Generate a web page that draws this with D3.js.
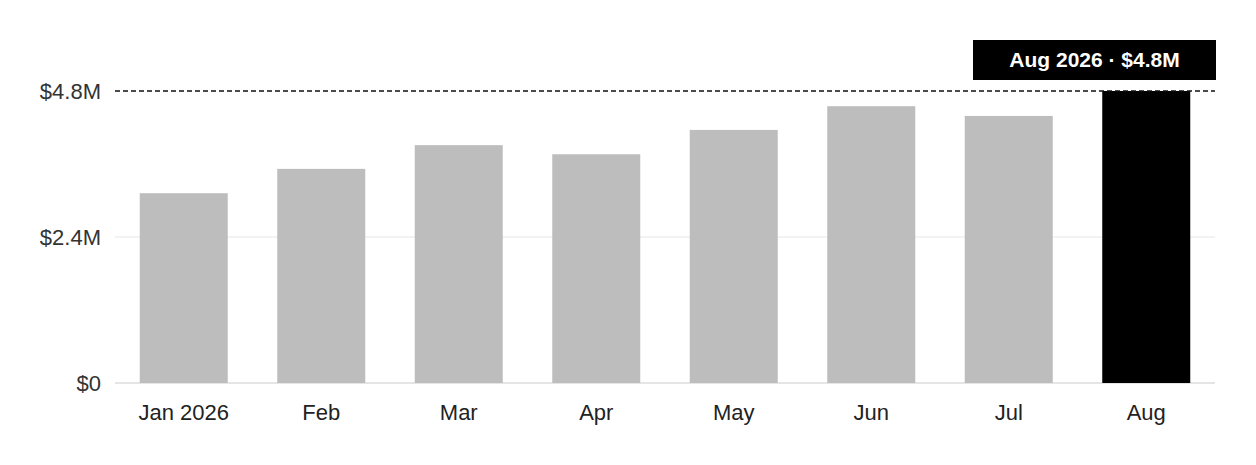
<!DOCTYPE html>
<html>
<head>
<meta charset="utf-8">
<script src="https://cdn.jsdelivr.net/npm/d3@7"></script>
<style>
  body { margin: 0; background: #fff; }
  svg { display: block; font-family: "Liberation Sans", Arial, sans-serif; }
</style>
</head>
<body>
<svg width="1256" height="465"></svg>
<script>
const months = ["Jan 2026", "Feb", "Mar", "Apr", "May", "Jun", "Jul", "Aug"];
const revenue = [3.12, 3.52, 3.91, 3.76, 4.16, 4.55, 4.39, 4.8]; // $M
const yTicks = [0, 2.4, 4.8];
const highlight = "Aug";
const highlightLabel = "Aug 2026 · $4.8M";

const margin = {top: 91, right: 41, bottom: 82, left: 115};
const width = 1256 - margin.left - margin.right,
      height = 465 - margin.top - margin.bottom;

const data = months.map((m, i) => ({month: m, value: revenue[i]}));

const svg = d3.select("svg");
const g = svg.append("g").attr("transform", `translate(${margin.left}, ${margin.top})`);

const x = d3.scaleBand().domain(months).range([0, width]).paddingInner(0.36).paddingOuter(0.18);
const y = d3.scaleLinear().domain([0, 4.8]).range([height, 0]);

const fmt = v => v === 0 ? "$0" : `$${v}M`;

// grid lines
g.selectAll(".grid")
  .data(yTicks.filter(t => t > 0 && t < 4.8))
  .enter().append("line")
  .attr("x1", 0).attr("x2", width)
  .attr("y1", d => y(d)).attr("y2", d => y(d))
  .attr("stroke", "#e6e6e6").attr("stroke-width", 1);

// baseline
g.append("line")
  .attr("x1", 0).attr("x2", width)
  .attr("y1", y(0)).attr("y2", y(0))
  .attr("stroke", "#dcdcdc").attr("stroke-width", 1.5);

// y axis labels
const yAxis = g.append("g").call(d3.axisLeft(y).tickValues(yTicks).tickFormat(fmt).tickSize(0).tickPadding(14));
yAxis.select(".domain").remove();
yAxis.selectAll("text").attr("font-size", "22px").attr("fill", "#333").attr("font-family", "Liberation Sans, Arial, sans-serif");

// x axis labels
const xAxis = g.append("g").attr("transform", `translate(0, ${height})`)
  .call(d3.axisBottom(x).tickSize(0).tickPadding(21));
xAxis.select(".domain").remove();
xAxis.selectAll("text").attr("font-size", "22px").attr("fill", "#222").attr("font-family", "Liberation Sans, Arial, sans-serif");

// bars
g.selectAll("rect.bar")
  .data(data)
  .enter().append("rect")
  .attr("class", "bar")
  .attr("x", d => x(d.month))
  .attr("y", d => y(d.value))
  .attr("width", x.bandwidth())
  .attr("height", d => height - y(d.value))
  .attr("fill", d => d.month === highlight ? "#000" : "#bdbdbd");

// dashed reference line at highlighted value
const hv = data.find(d => d.month === highlight).value;
g.append("line")
  .attr("x1", 0).attr("x2", width)
  .attr("y1", y(hv)).attr("y2", y(hv))
  .attr("stroke", "#111").attr("stroke-width", 1.5)
  .attr("stroke-dasharray", "5,3");

// label box
const boxW = 243, boxH = 40;
const boxX = width - boxW + 1;
const boxY = y(hv) - 11 - boxH;
g.append("rect")
  .attr("x", boxX).attr("y", boxY)
  .attr("width", boxW).attr("height", boxH)
  .attr("fill", "#000");
g.append("text")
  .attr("x", boxX + boxW / 2).attr("y", boxY + boxH / 2 + 7)
  .attr("text-anchor", "middle")
  .attr("font-size", "21px").attr("font-weight", "bold")
  .attr("fill", "#fff")
  .text(highlightLabel);
</script>
</body>
</html>
